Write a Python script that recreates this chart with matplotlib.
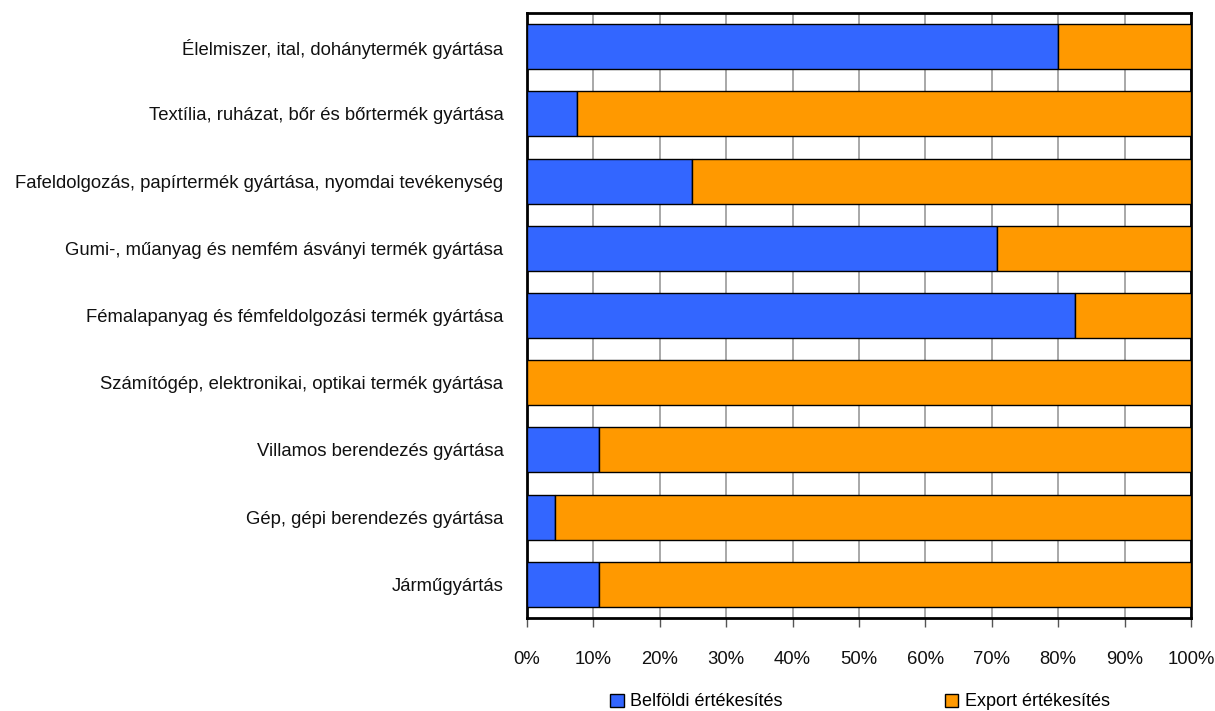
import matplotlib
matplotlib.use("Agg")
import matplotlib.pyplot as plt
import numpy as np
from matplotlib.ticker import FixedLocator

plt.rcParams['font.family'] = ['Liberation Sans', 'DejaVu Sans']

categories = [
    "Élelmiszer, ital, dohánytermék gyártása",
    "Textília, ruházat, bőr és bőrtermék gyártása",
    "Fafeldolgozás, papírtermék gyártása, nyomdai tevékenység",
    "Gumi-, műanyag és nemfém ásványi termék gyártása",
    "Fémalapanyag és fémfeldolgozási termék gyártása",
    "Számítógép, elektronikai, optikai termék gyártása",
    "Villamos berendezés gyártása",
    "Gép, gépi berendezés gyártása",
    "Járműgyártás",
]
belfoldi = [80.0, 7.5, 24.8, 70.8, 82.5, 0.0, 10.9, 4.2, 10.9]
export = [100 - v for v in belfoldi]
series_names = ["Belföldi értékesítés", "Export értékesítés"]
x_ticks = [0, 10, 20, 30, 40, 50, 60, 70, 80, 90, 100]
x_ticklabels = [f"{t}%" for t in x_ticks]

fig = plt.figure(figsize=(12.15, 7.11), dpi=100)
ax = fig.add_axes([527/1215, 1 - 618/711, (1191-527)/1215, (618-13)/711])

y = np.arange(len(categories))
h1 = ax.barh(y, belfoldi, height=0.67, color='#3366FF', edgecolor='black', linewidth=1.0, label=series_names[0], zorder=3)
h2 = ax.barh(y, export, left=belfoldi, height=0.67, color='#FF9900', edgecolor='black', linewidth=1.0, label=series_names[1], zorder=3)

ax.set_xlim(0, 100)
ax.set_ylim(len(categories) - 0.5, -0.5)
ax.set_yticks(y)
ax.set_yticklabels(categories, fontsize=13.3, color='#111111')
ax.tick_params(axis='y', length=0, pad=17)
ax.xaxis.set_major_locator(FixedLocator(x_ticks))
ax.set_xticklabels(x_ticklabels, fontsize=13.3, color='#111111')
ax.tick_params(axis='x', length=6.5, width=1, color='#555555', pad=17)
ax.grid(axis='x', color='#999999', linewidth=1.2, zorder=0)
ax.set_axisbelow(True)
for s in ax.spines.values():
    s.set_linewidth(2)
    s.set_color('black')

fig.legend(handles=[h1, h2], labels=series_names, loc='center left',
           bbox_to_anchor=(610/1215, 1 - 702/711), ncol=2, frameon=False,
           fontsize=13, handlelength=0.75, handleheight=0.75, handletextpad=0.35,
           columnspacing=9.0, borderpad=0, borderaxespad=0)

fig.savefig("out.png", dpi=100)
